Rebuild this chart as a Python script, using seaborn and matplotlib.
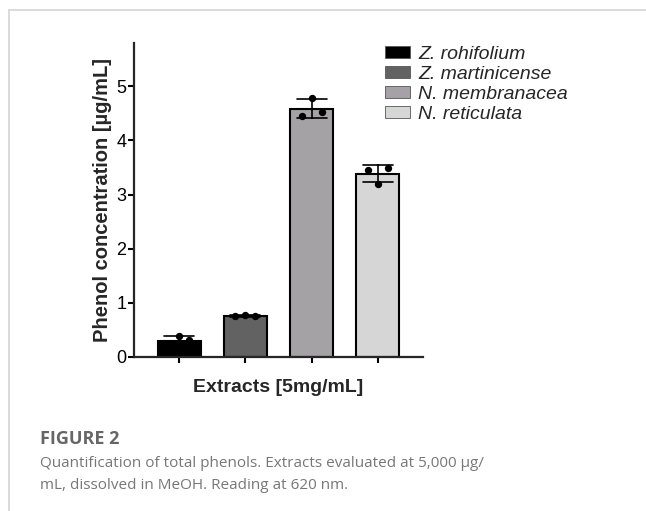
import numpy as np
import pandas as pd
import matplotlib.pyplot as plt
import seaborn as sns
from matplotlib.lines import Line2D

# data (3 replicates per extract)
species = ["Z. rohifolium", "Z. martinicense", "N. membranacea", "N. reticulata"]
rep1 = [0.21, 0.75, 4.45, 3.46]
rep2 = [0.38, 0.77, 4.79, 3.20]
rep3 = [0.31, 0.75, 4.52, 3.49]
bar_colors = ["#000000", "#626262", "#a5a1a6", "#d6d6d6"]
yticks = [0, 1, 2, 3, 4, 5]

# jitter offsets of the dots (left, centre, right)
offsets = [-0.15, 0.0, 0.15]

df = pd.DataFrame({
    "species": species * 3,
    "value": rep1 + rep2 + rep3,
    "rep": [0] * 4 + [1] * 4 + [2] * 4,
})
df["pos"] = [i for i in range(4)] * 3
df["xdot"] = df["pos"] + df["rep"].map(lambda r: offsets[r])

sns.set_style("ticks")
plt.rcParams["font.family"] = ["Liberation Sans", "DejaVu Sans"]

fig = plt.figure(figsize=(6.46, 5.11), dpi=100)
ax = fig.add_axes([0.2074, 0.3014, 0.4474, 0.6145])

sns.barplot(data=df, x="species", y="value", hue="species", palette=bar_colors,
            errorbar="sd", capsize=0.45, width=0.65, edgecolor="black",
            linewidth=1.5, err_kws={"color": "black", "linewidth": 1.2},
            legend=False, ax=ax)
sns.scatterplot(data=df, x="xdot", y="value", color="black", s=28,
                edgecolor="black", linewidth=0, zorder=5, ax=ax, legend=False)

ax.set_xlim(-0.68, 3.68)
ax.set_ylim(0, 5.8)
ax.set_yticks(yticks)
ax.set_xticks(range(4))
ax.set_xticklabels([])
ax.tick_params(axis="both", width=1.5, length=4.5, labelsize=13, colors="black", pad=1)
for s in ["left", "bottom"]:
    ax.spines[s].set_linewidth(1.6)
sns.despine(ax=ax)
ax.set_xlabel("Extracts [5mg/mL]", fontsize=14, fontweight="bold", labelpad=10)
ax.set_ylabel("Phenol concentration [µg/mL]", fontsize=14.5, fontweight="bold", labelpad=3)

handles = [plt.Rectangle((0, 0), 1, 1, facecolor=c, edgecolor="#555555", linewidth=0.6)
           for c in bar_colors]
leg = ax.legend(handles, species, loc="upper left", bbox_to_anchor=(0.868, 0.99),
                frameon=False, fontsize=14, handlelength=1.3, handleheight=0.55,
                handletextpad=0.4, labelspacing=0.15, borderaxespad=0, borderpad=0)
for t in leg.get_texts():
    t.set_fontstyle("italic")

# page frame lines
fig.add_artist(Line2D([9 / 646, 9 / 646], [0, 1 - 10 / 511], color="#d4d4d4", lw=1.2))
fig.add_artist(Line2D([9 / 646, 1], [1 - 10 / 511, 1 - 10 / 511], color="#d4d4d4", lw=1.2))

# caption
fig.text(40 / 646, 1 - 444 / 511, "FIGURE 2", fontsize=13, fontweight="bold",
         color="#666666", family="Open Sans")
fig.text(40 / 646, 1 - 467 / 511, "Quantification of total phenols. Extracts evaluated at 5,000 µg/",
         fontsize=11, color="#777777", family="Open Sans")
fig.text(40 / 646, 1 - 489 / 511, "mL, dissolved in MeOH. Reading at 620 nm.",
         fontsize=11, color="#777777", family="Open Sans")

fig.savefig("out.png", dpi=100)
